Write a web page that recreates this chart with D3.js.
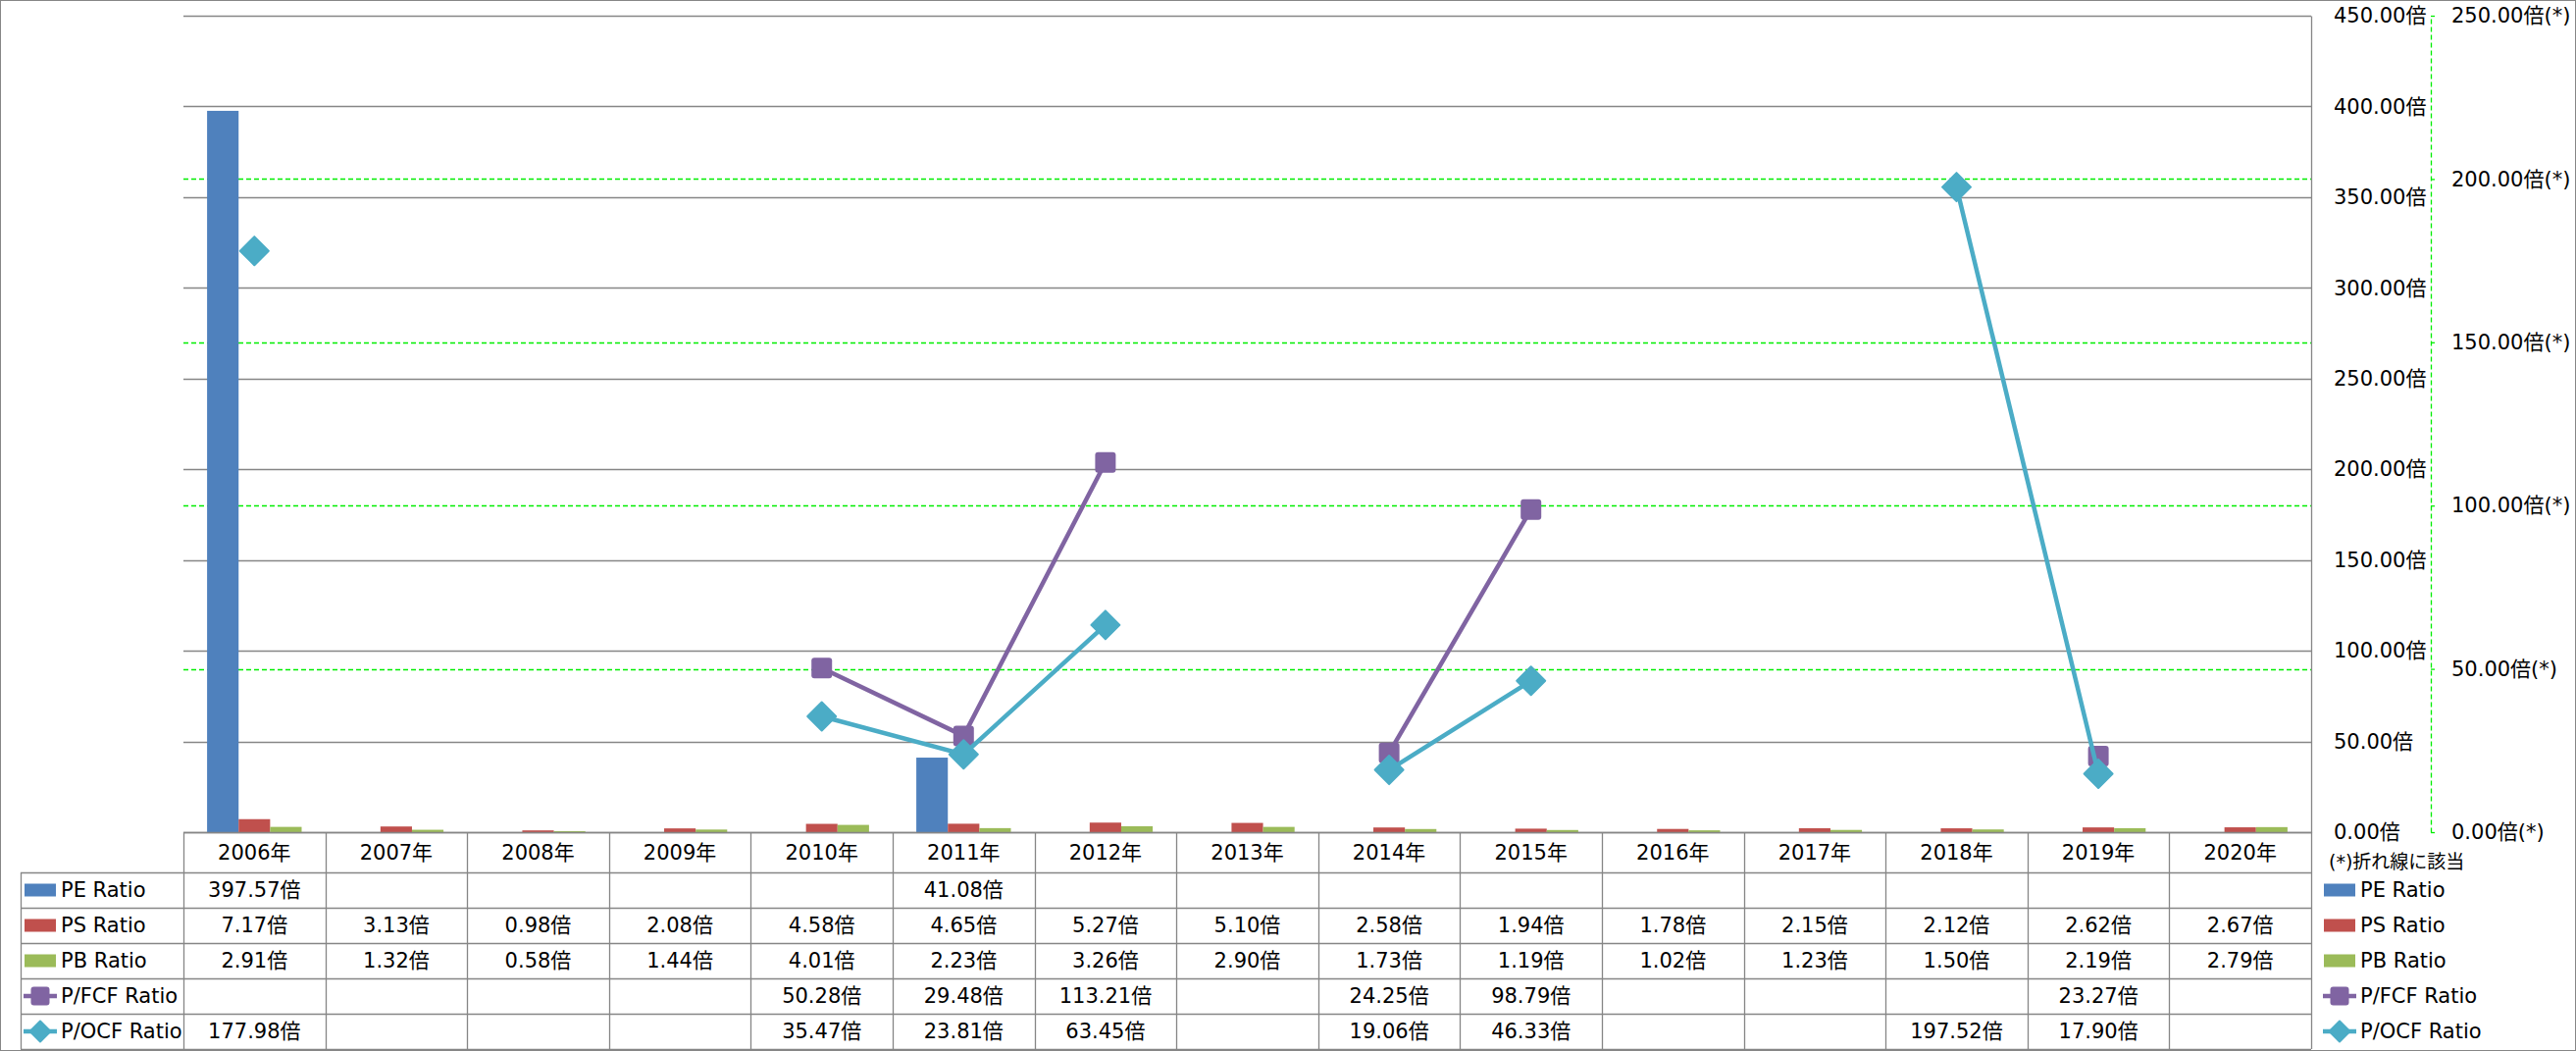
<!DOCTYPE html>
<html>
<head>
<meta charset="utf-8">
<script src="https://cdn.jsdelivr.net/npm/d3@7"></script>
<style>
  body { margin: 0; background: #fff; }
  text { font-family: "DejaVu Sans", "Noto Sans CJK JP", sans-serif; fill: #000; }
</style>
</head>
<body>
<div class="content"></div>
<script>
// data
const years = ['2006年', '2007年', '2008年', '2009年', '2010年', '2011年', '2012年', '2013年',
  '2014年', '2015年', '2016年', '2017年', '2018年', '2019年', '2020年']
const peRatio = [397.57, null, null, null, null, 41.08, null, null, null, null, null, null, null, null, null]
const psRatio = [7.17, 3.13, 0.98, 2.08, 4.58, 4.65, 5.27, 5.10, 2.58, 1.94, 1.78, 2.15, 2.12, 2.62, 2.67]
const pbRatio = [2.91, 1.32, 0.58, 1.44, 4.01, 2.23, 3.26, 2.90, 1.73, 1.19, 1.02, 1.23, 1.50, 2.19, 2.79]
const pfcfRatio = [null, null, null, null, 50.28, 29.48, 113.21, null, 24.25, 98.79, null, null, null, 23.27, null]
const pocfRatio = [177.98, null, null, null, 35.47, 23.81, 63.45, null, 19.06, 46.33, null, null, 197.52, 17.90, null]
const seriesNames = ['PE Ratio', 'PS Ratio', 'PB Ratio', 'P/FCF Ratio', 'P/OCF Ratio']
const leftTicks = [0, 50, 100, 150, 200, 250, 300, 350, 400, 450]
const rightTicks = [0, 50, 100, 150, 200, 250]

// layout
const W = 2626
const H = 1071
const plotL = 187
const plotR = 2356
const plotT = 16
const plotB = 848
const rowH = 36
const headH = 41
const tableL = 21
const secAxisX = 2478
const gray = '#868686'
const green = '#00ee00'
const colors = ['#4F81BD', '#C0504D', '#9BBB59', '#8064A2', '#4BACC6']
const fmt = v => v.toFixed(2) + '倍'

const svg = d3.select('div.content')
  .append('svg')
  .attr('width', W)
  .attr('height', H)

svg.append('rect')
  .attr('x', 0.5).attr('y', 0.5)
  .attr('width', W - 1).attr('height', H - 1)
  .attr('fill', '#fff')
  .attr('stroke', gray)

const x = d3.scaleBand().domain(years).range([plotL, plotR])
const xb = d3.scaleBand().domain([0, 1, 2]).range([0, x.bandwidth()]).paddingOuter(0.75)
const y = d3.scaleLinear().domain([0, 450]).range([plotB, plotT])
const y2 = d3.scaleLinear().domain([0, 250]).range([plotB, plotT])

// gridlines
svg.append('g').selectAll('line')
  .data(leftTicks)
  .join('line')
  .attr('x1', plotL).attr('x2', plotR)
  .attr('y1', d => Math.round(y(d)) + 0.5).attr('y2', d => Math.round(y(d)) + 0.5)
  .attr('stroke', gray)
  .attr('stroke-width', 1.3)
svg.append('g').selectAll('line')
  .data(rightTicks.filter(d => d > 0 && d < 250))
  .join('line')
  .attr('x1', plotL).attr('x2', plotR)
  .attr('y1', d => Math.round(y2(d)) + 0.5).attr('y2', d => Math.round(y2(d)) + 0.5)
  .attr('stroke', green)
  .attr('stroke-width', 1.3)
  .attr('stroke-dasharray', '5,3')

// bars
const barSeries = [peRatio, psRatio, pbRatio]
barSeries.forEach((vals, si) => {
  svg.append('g').selectAll('rect')
    .data(vals.map((v, i) => ({ v, i })).filter(d => d.v != null))
    .join('rect')
    .attr('x', d => x(years[d.i]) + xb(si))
    .attr('width', xb.bandwidth())
    .attr('y', d => y(d.v))
    .attr('height', d => plotB - y(d.v))
    .attr('fill', colors[si])
})

// primary axis (right)
const ax1 = svg.append('g')
  .attr('transform', `translate(${plotR},0)`)
  .call(d3.axisRight(y).tickValues(leftTicks).tickSize(0).tickPadding(23).tickFormat(fmt))
ax1.select('.domain').attr('stroke', gray).attr('stroke-width', 1.3)
ax1.selectAll('text').attr('font-size', 21).attr('font-family', null)

// secondary axis
const ax2 = svg.append('g')
  .attr('transform', `translate(${secAxisX},0)`)
  .call(d3.axisRight(y2).tickValues(rightTicks).tickSize(4).tickSizeOuter(0).tickPadding(17)
    .tickFormat(d => fmt(d) + '(*)'))
ax2.select('.domain').attr('stroke', green).attr('stroke-width', 1.3).attr('stroke-dasharray', '5,3')
ax2.selectAll('.tick line').attr('stroke', green).attr('stroke-width', 1.3)
ax2.selectAll('text').attr('font-size', 21).attr('font-family', null)

svg.append('text')
  .attr('x', 2374).attr('y', 878)
  .attr('dy', '0.35em')
  .attr('font-size', 19)
  .text('(*)折れ線に該当')

// markers
function marker(g, kind, color, size) {
  if (kind === 'square') {
    g.append('rect')
      .attr('x', -size / 2).attr('y', -size / 2)
      .attr('width', size).attr('height', size)
      .attr('rx', 3)
      .attr('fill', color)
  } else {
    const r = size / 2
    g.append('path')
      .attr('d', `M0,${-r}L${r},0L0,${r}L${-r},0Z`)
      .attr('fill', color)
      .attr('stroke', color)
      .attr('stroke-width', 2)
      .attr('stroke-linejoin', 'round')
  }
}

// lines
const lineSeries = [
  { vals: pfcfRatio, color: colors[3], kind: 'square', size: 21 },
  { vals: pocfRatio, color: colors[4], kind: 'diamond', size: 29 }
]
lineSeries.forEach(s => {
  const pts = s.vals.map((v, i) => ({ v, i }))
  const line = d3.line()
    .defined(d => d.v != null)
    .x(d => x(years[d.i]) + x.bandwidth() / 2)
    .y(d => y2(d.v))
  svg.append('path')
    .datum(pts)
    .attr('d', line)
    .attr('fill', 'none')
    .attr('stroke', s.color)
    .attr('stroke-width', 4.5)
    .attr('stroke-linejoin', 'round')
  svg.append('g').selectAll('g')
    .data(pts.filter(d => d.v != null))
    .join('g')
    .attr('transform', d => `translate(${x(years[d.i]) + x.bandwidth() / 2},${y2(d.v)})`)
    .each(function () { marker(d3.select(this), s.kind, s.color, s.size) })
})

// data table
const tbl = svg.append('g')
const tableB = plotB + headH + rowH * seriesNames.length
const rowY = i => plotB + headH + rowH * i
tbl.append('line')
  .attr('x1', plotL).attr('x2', plotR)
  .attr('y1', plotB + 0.5).attr('y2', plotB + 0.5)
  .attr('stroke', gray).attr('stroke-width', 1.3)
tbl.selectAll('line.h')
  .data(d3.range(seriesNames.length + 1))
  .join('line')
  .attr('class', 'h')
  .attr('x1', tableL).attr('x2', plotR)
  .attr('y1', i => rowY(i) + 0.5).attr('y2', i => rowY(i) + 0.5)
  .attr('stroke', gray).attr('stroke-width', 1.3)
tbl.selectAll('line.v')
  .data(years.map(d => x(d)).concat([plotR]))
  .join('line')
  .attr('class', 'v')
  .attr('x1', d => Math.round(d) + 0.5).attr('x2', d => Math.round(d) + 0.5)
  .attr('y1', plotB).attr('y2', tableB)
  .attr('stroke', gray).attr('stroke-width', 1.3)
tbl.append('line')
  .attr('x1', tableL + 0.5).attr('x2', tableL + 0.5)
  .attr('y1', rowY(0)).attr('y2', tableB)
  .attr('stroke', gray).attr('stroke-width', 1.3)

tbl.selectAll('text.year')
  .data(years)
  .join('text')
  .attr('class', 'year')
  .attr('x', d => x(d) + x.bandwidth() / 2)
  .attr('y', plotB + headH / 2)
  .attr('dy', '0.35em')
  .attr('text-anchor', 'middle')
  .attr('font-size', 21)
  .text(d => d)

const allSeries = [peRatio, psRatio, pbRatio, pfcfRatio, pocfRatio]
allSeries.forEach((vals, si) => {
  tbl.append('g').selectAll('text')
    .data(vals.map((v, i) => ({ v, i })).filter(d => d.v != null))
    .join('text')
    .attr('x', d => x(years[d.i]) + x.bandwidth() / 2)
    .attr('y', rowY(si) + rowH / 2)
    .attr('dy', '0.35em')
    .attr('text-anchor', 'middle')
    .attr('font-size', 21)
    .text(d => fmt(d.v))
})

// legend keys (in table and at right)
function legendKey(g, si) {
  if (si < 3) {
    g.append('rect')
      .attr('x', 0).attr('y', -6.5)
      .attr('width', 32).attr('height', 13)
      .attr('fill', colors[si])
  } else {
    g.append('line')
      .attr('x1', -1).attr('x2', 33)
      .attr('y1', 0).attr('y2', 0)
      .attr('stroke', colors[si]).attr('stroke-width', 4.5)
    const m = g.append('g').attr('transform', 'translate(16,0)')
    marker(m, si === 3 ? 'square' : 'diamond', colors[si], si === 3 ? 19 : 21)
  }
  g.append('text')
    .attr('x', 37).attr('y', 0)
    .attr('dy', '0.35em')
    .attr('font-size', 21)
    .text(seriesNames[si])
}
seriesNames.forEach((n, si) => {
  legendKey(svg.append('g').attr('transform', `translate(25,${rowY(si) + rowH / 2})`), si)
  legendKey(svg.append('g').attr('transform', `translate(2369,${rowY(si) + rowH / 2})`), si)
})
</script>
</body>
</html>
